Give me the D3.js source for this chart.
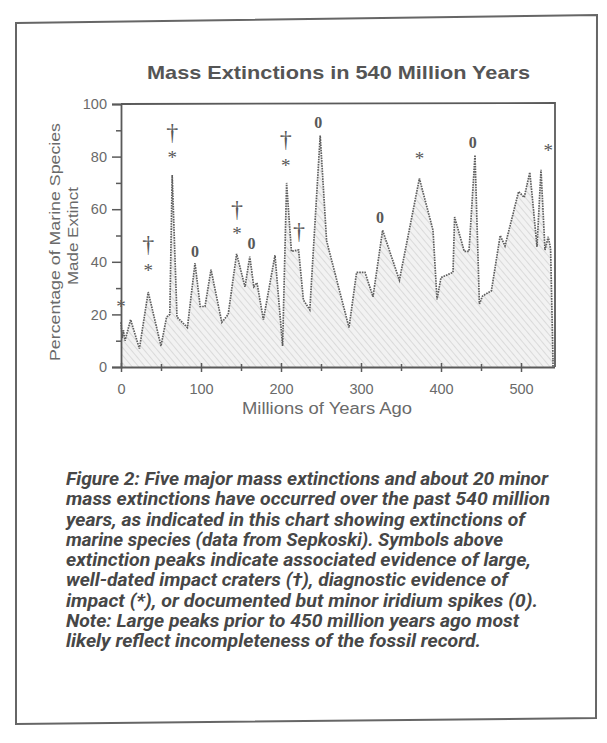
<!DOCTYPE html>
<html>
<head>
<meta charset="utf-8">
<script src="https://cdn.jsdelivr.net/npm/d3@7"></script>
<style>
  html, body { margin: 0; padding: 0; background: #ffffff; }
  svg { display: block; }
</style>
</head>
<body>
<svg id="chart" width="607" height="743"></svg>
<script>
// ---- Data ----
const ages = [0, 1.5, 3, 5, 12, 23, 34, 50, 57, 61, 64, 70, 83, 92.5, 99, 105, 112.5, 126, 134, 144.5, 155,
  161, 166, 170, 178, 192.5, 202, 207, 213, 222, 228, 236, 249, 257, 285, 294.5, 305, 315, 327, 348, 373,
  390, 395, 400, 415, 417, 429, 435, 442.5, 448, 452, 463, 474, 480, 497, 504, 511, 514, 520, 525, 530,
  534, 537, 540];
const extinctPct = [17, 11, 14, 10, 18, 7, 28.5, 8, 19, 20, 73, 19, 15, 39.5, 23, 23, 37, 17, 20, 43, 30.5,
  42, 30.5, 32, 18, 42.5, 8, 70, 44, 44.5, 25.5, 21.7, 88, 48, 15, 36, 36, 26.7, 52, 33, 71.7,
  52, 25.7, 34, 36, 57, 44, 44, 80.6, 24, 27, 29, 50, 46, 66.7, 64.5, 74, 65, 45.7, 75, 44.5,
  49.5, 45, 2.7];

// Symbols above peaks: † impact crater, * diagnostic evidence, 0 iridium spike
const markAges = [0, 34, 34, 64, 64, 92.5, 145, 145, 163, 206, 206, 222.5, 246.7, 323.7, 373, 439.6, 534];
const markSymbols = ["*", "†", "*", "†", "*", "0", "†", "*", "0", "†", "*", "†", "0", "0", "*", "0", "*"];
const markLevels = [24.3, 46.4, 38, 88.8, 81, 43.8, 59.7, 52, 46.8, 86.3, 78, 51.4, 92.9, 57, 80.6, 85.3, 83.5];

const xMajorTicks = [0, 100, 200, 300, 400, 500];
const xMinorTicks = [50, 150, 250, 350, 450];
const yMajorTicks = [0, 20, 40, 60, 80, 100];
const yMinorTicks = [10, 30, 50, 70, 90];

const titleText = "Mass Extinctions in 540 Million Years";
const xTitle = "Millions of Years Ago";
const yTitleLines = ["Percentage of Marine Species", "Made Extinct"];
const captionLines = [
  "Figure 2: Five major mass extinctions and about 20 minor",
  "mass extinctions have occurred over the past 540 million",
  "years, as indicated in this chart showing extinctions of",
  "marine species (data from Sepkoski). Symbols above",
  "extinction peaks indicate associated evidence of large,",
  "well-dated impact craters (†), diagnostic evidence of",
  "impact (*), or documented but minor iridium spikes (0).",
  "Note: Large peaks prior to 450 million years ago most",
  "likely reflect incompleteness of the fossil record."
];
const captionEnds = [548, 550, 525, 503, 531, 508, 538, 519, 481];

// ---- Layout ----
const svg = d3.select("#chart");
const grey = "#5a5a5a";
const plotL = 121, plotT = 104, plotB = 367;
const x = d3.scaleLinear().domain([0, 540]).range([plotL, 553]);
const y = d3.scaleLinear().domain([0, 100]).range([plotB, plotT]);
const plotR = x(542.5);

// outer frame (slightly skewed like the scan)
svg.append("path")
  .attr("d", "M16,23 L597,15 L596,718 L16,724 Z")
  .attr("fill", "none").attr("stroke", "#666").attr("stroke-width", 2);

// hatch pattern
const defs = svg.append("defs");
const pat = defs.append("pattern").attr("id", "hatch").attr("patternUnits", "userSpaceOnUse")
  .attr("width", 5).attr("height", 5).attr("patternTransform", "rotate(-40)");
pat.append("rect").attr("width", 5).attr("height", 5).attr("fill", "#f2f2f2");
pat.append("line").attr("x1", 0).attr("y1", 0).attr("x2", 0).attr("y2", 5)
  .attr("stroke", "#cbcbcb").attr("stroke-width", 1.2);

// title
svg.append("text").attr("x", 147).attr("y", 79)
  .attr("font-family", "Liberation Sans, Arial, sans-serif").attr("font-weight", "bold")
  .attr("font-size", 18.5).attr("textLength", 383).attr("lengthAdjust", "spacingAndGlyphs")
  .attr("fill", "#555").text(titleText);

// area + line
const pts = ages.map((a, i) => [a, extinctPct[i]]);
const area = d3.area().x(d => x(d[0])).y0(y(0)).y1(d => y(d[1]));
const line = d3.line().x(d => x(d[0])).y(d => y(d[1]));
svg.append("path").datum(pts).attr("d", area).attr("fill", "url(#hatch)");
svg.append("path").datum(pts).attr("d", line).attr("fill", "none")
  .attr("stroke", "#5e5e5e").attr("stroke-width", 1.7).attr("stroke-dasharray", "1.6,1");
svg.append("line").attr("x1", x(540)).attr("x2", x(540)).attr("y1", y(2.7)).attr("y2", y(0))
  .attr("stroke", "#5e5e5e").attr("stroke-width", 1.7).attr("stroke-dasharray", "1.6,1");

// plot frame: top and right
svg.append("path").attr("d", `M${plotL},${plotT} L${plotR},${plotT - 1} L${plotR},${plotB}`)
  .attr("fill", "none").attr("stroke", grey).attr("stroke-width", 1.8);

// axes
const yAxis = d3.axisLeft(y).tickValues(yMajorTicks).tickSize(9).tickPadding(5).tickFormat(d3.format("d"));
const gy = svg.append("g").attr("transform", `translate(${plotL},0)`).call(yAxis);
const yMinor = d3.axisLeft(y).tickValues(yMinorTicks).tickSize(5).tickFormat("");
svg.append("g").attr("transform", `translate(${plotL},0)`).call(yMinor).select(".domain").remove();

const xAxis = d3.axisBottom(x).tickValues(xMajorTicks).tickSizeInner(5).tickSizeOuter(0).tickPadding(12).tickFormat(d3.format("d"));
const gx = svg.append("g").attr("transform", `translate(0,${plotB})`).call(xAxis);
gx.selectAll(".tick line").attr("y1", -4);
const xMinor = d3.axisBottom(x).tickValues(xMinorTicks).tickSize(4).tickFormat("");
const gxm = svg.append("g").attr("transform", `translate(0,${plotB})`).call(xMinor);
gxm.select(".domain").remove();
gxm.selectAll(".tick line").attr("y1", -3);

[gy, gx].forEach(g => {
  g.select(".domain").attr("stroke", grey).attr("stroke-width", 1.8);
  g.selectAll("text").attr("font-family", "Liberation Sans, Arial, sans-serif")
    .attr("font-size", 14.5).attr("fill", "#6a6a6a");
});
gx.select(".domain").attr("d", `M${plotL},0.5H${plotR}`);
svg.selectAll(".tick line").attr("stroke", grey).attr("stroke-width", 1.5);

// axis titles
svg.append("text").attr("x", 242).attr("y", 414)
  .attr("font-family", "Liberation Sans, Arial, sans-serif").attr("font-size", 16)
  .attr("textLength", 170).attr("lengthAdjust", "spacingAndGlyphs")
  .attr("fill", "#6a6a6a").text(xTitle);
const yTitleSpecs = [{ x: 60, c: 242, len: 238 }, { x: 78, c: 236, len: 98 }];
yTitleLines.forEach((t, i) => {
  const s = yTitleSpecs[i];
  svg.append("text").attr("transform", `translate(${s.x},${s.c + s.len / 2}) rotate(-90)`)
    .attr("font-family", "Liberation Sans, Arial, sans-serif").attr("font-size", 15.5)
    .attr("textLength", s.len).attr("lengthAdjust", "spacingAndGlyphs")
    .attr("fill", "#6a6a6a").text(t);
});

// symbols
const symFont = { "*": 19, "†": 24, "0": 16 };
const symDy = { "*": 10, "†": 7, "0": 5.5 };
svg.append("g").selectAll("text").data(markAges.map((a, i) => ({ a, s: markSymbols[i], v: markLevels[i] })))
  .join("text")
  .attr("x", d => x(d.a)).attr("y", d => y(d.v) + symDy[d.s])
  .attr("text-anchor", "middle")
  .attr("font-family", "Liberation Serif, Times New Roman, serif")
  .attr("font-weight", d => d.s === "0" ? "bold" : "normal")
  .attr("font-size", d => symFont[d.s])
  .attr("fill", "#585858").text(d => d.s);

// caption
captionLines.forEach((t, i) => {
  svg.append("text").attr("x", 66).attr("y", 485 + i * 20.25)
    .attr("font-family", "Roboto, Liberation Sans, Arial, sans-serif")
    .attr("font-weight", "bold").attr("font-style", "italic").attr("font-size", 18)
    .attr("textLength", captionEnds[i] - 66).attr("lengthAdjust", "spacingAndGlyphs")
    .attr("fill", "#474747").text(t);
});
</script>
</body>
</html>
